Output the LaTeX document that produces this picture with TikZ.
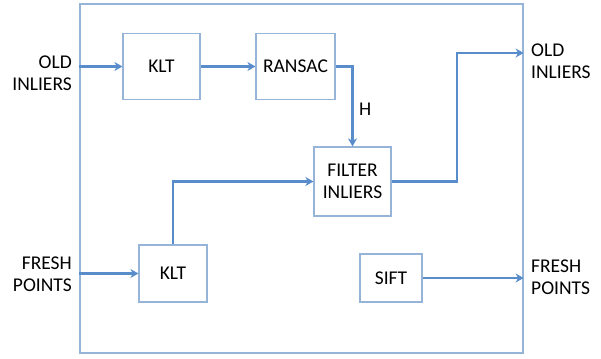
\documentclass[tikz,border=0pt]{standalone}
\usepackage{fontspec}
\setmainfont{Carlito}
\usetikzlibrary{arrows.meta}
\definecolor{cArrow}{RGB}{88,140,202}
\definecolor{cBox}{RGB}{150,180,216}

\tikzset{
    blk/.style={draw=cBox,line width=1.2pt,fill=white,align=center,inner sep=0pt},
    flow/.style={draw=cArrow,line width=2.2pt,-{Stealth[length=8pt,width=9pt,inset=2.5pt]}},
    lbl/.style={inner sep=0pt}
}

\begin{document}
\begin{tikzpicture}[x=1pt,y=-1pt,font=\fontsize{19.5}{22}\selectfont]
        \useasboundingbox (0,0) rectangle (601,358);
        % outer frame
        \node[draw=cBox,line width=1.2pt,minimum width=443pt,minimum height=349pt,inner sep=0pt] (frame) at (301.5,178.5) {};

        % blocks
        \node[blk,minimum width=77pt,minimum height=66pt] (klt1) at (161.5,66.5) {KLT};
        \node[blk,minimum width=79pt,minimum height=66pt] (ransac) at (295.5,66.5) {RANSAC};
        \node[blk,minimum width=77pt,minimum height=69pt] (filter) at (352.5,181.5) {FILTER\\INLIERS};
        \node[blk,minimum width=68pt,minimum height=57pt] (klt2) at (173,273.5) {KLT};
        \node[blk,minimum width=62pt,minimum height=48pt] (sift) at (391,278) {SIFT};

        % outside labels
        \node[lbl,align=right,anchor=east] (oldin) at (72,73) {OLD\\INLIERS};
        \node[lbl,align=right,anchor=east] (freshin) at (72,274) {FRESH\\POINTS};
        \node[lbl,align=left,anchor=west] (oldout) at (531,61) {OLD\\INLIERS};
        \node[lbl,align=left,anchor=west] (freshout) at (531,277.5) {FRESH\\POINTS};
        \node[lbl,anchor=west] (hlbl) at (359,109) {H};

        \coordinate (bend) at (457,53);

        % connectors
        \draw[flow] (frame.west |- klt1.west) -- (klt1.west);
        \draw[flow] (klt1.east) -- (ransac.west);
        \draw[flow] (ransac.east) -| (filter.north);
        \draw[flow] (klt2.north) |- (filter.west);
        \draw[flow] (filter.east) -| (bend) -- (frame.east |- bend);
        \draw[flow] (frame.west |- klt2.west) -- (klt2.west);
        \draw[flow] (sift.east) -- (frame.east |- sift.east);
\end{tikzpicture}
\end{document}
